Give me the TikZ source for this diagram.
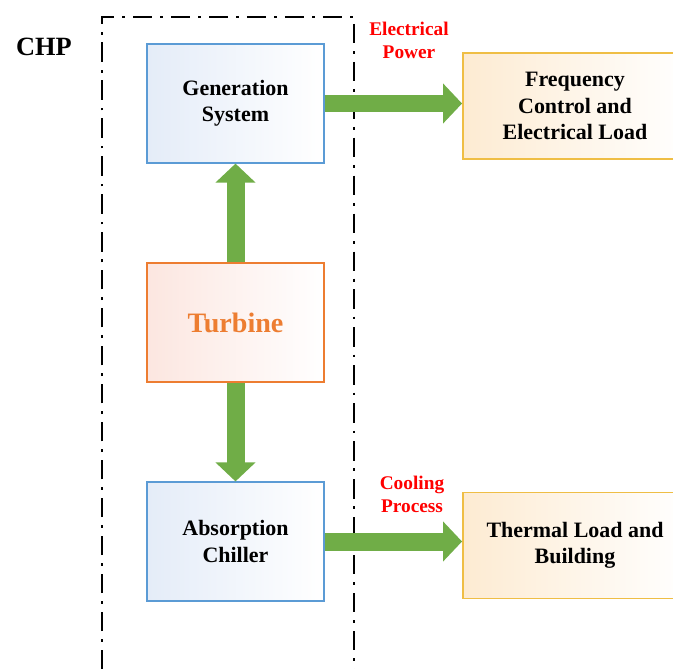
\documentclass[tikz,border=0pt]{standalone}
\usepackage{fontspec}
\setmainfont{Liberation Serif}
\usetikzlibrary{arrows.meta}
\definecolor{arrgreen}{HTML}{70AD47}
\definecolor{boxblue}{HTML}{5B9BD5}
\definecolor{boxorange}{HTML}{ED7D31}
\definecolor{boxgold}{HTML}{EFBE45}
\definecolor{fillblue}{HTML}{E4ECF8}
\definecolor{fillpink}{HTML}{FCE6E0}
\definecolor{fillgold}{HTML}{FDEBD2}
\tikzset{
  chpbox/.style={draw=boxblue, line width=0.7pt, minimum width=3.54cm, minimum height=2.38cm,
    align=center, font=\fontsize{12.5}{15}\selectfont\bfseries,
    shading angle=135, left color=fillblue, right color=white},
  turbbox/.style={chpbox, draw=boxorange, left color=fillpink, right color=white,
    text=boxorange, font=\fontsize{16}{19}\selectfont\bfseries},
  loadbox/.style={chpbox, draw=boxgold, line width=1.1pt, minimum width=4.48cm, minimum height=2.12cm,
    left color=fillgold, right color=white},
  fatarrow/.style={draw=arrgreen, line width=0.36cm, -{Triangle[width=0.78cm,length=0.38cm]}},
  flowlabel/.style={text=red, align=center, font=\fontsize{11}{13}\selectfont\bfseries}
}
\begin{document}
\begin{tikzpicture}[x=0.02cm,y=-0.02cm]
  \useasboundingbox (0,0) rectangle (673,669);
	\draw[line width=1.6pt, dash pattern=on 11pt off 4.5pt on 1.6pt off 4.5pt] (102,669) -- (102,17) -- (354,17) -- (354,669);
	\node [anchor=center, font=\fontsize{15}{18}\selectfont\bfseries] (chp) at (44,47) {CHP};
	\node [chpbox] (gen) at (235.5,103.5) {Generation\\System};
	\node [turbbox] (turb) at (235.5,322.5) {Turbine};
	\node [chpbox] (chill) at (235.5,541.5) {Absorption\\Chiller};
	\node [loadbox] (freq) at (575,106) {Frequency\\Control and\\Electrical Load};
	\node [loadbox] (therm) at (575,545.5) {Thermal Load and\\Building};
	 \draw[fatarrow] (turb.north) -- (gen.south);
	 \draw[fatarrow] (turb.south) -- (chill.north);
	 \draw[fatarrow] (gen.east |- 0,103.5) -- (freq.west |- 0,103.5);
	 \draw[fatarrow] (chill.east |- 0,541.5) -- (therm.west |- 0,541.5);
	\node [flowlabel] (elec) at (409,40) {Electrical\\Power};
	\node [flowlabel] (cool) at (412,494) {Cooling\\Process};
\end{tikzpicture}
\end{document}
